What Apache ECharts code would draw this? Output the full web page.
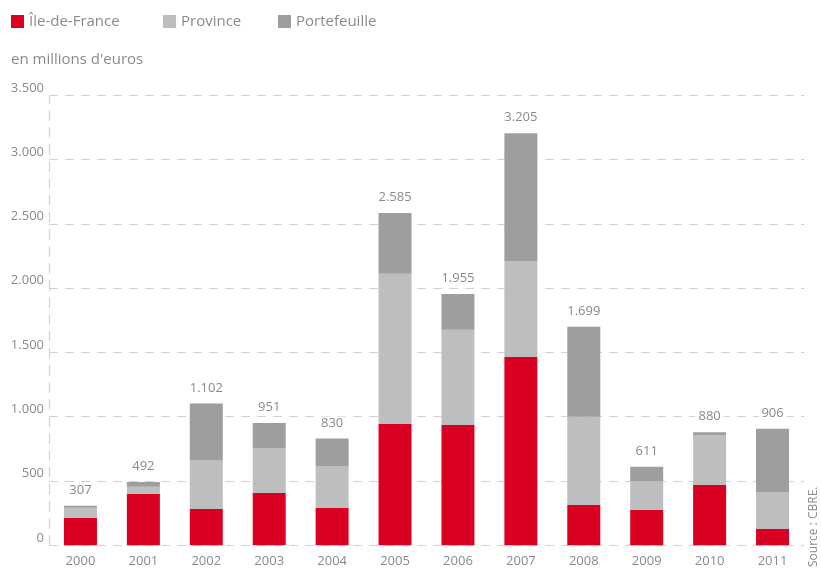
<!DOCTYPE html>
<html>
<head>
<meta charset="utf-8">
<script src="https://cdn.jsdelivr.net/npm/echarts@6/dist/echarts.min.js"></script>
<style>
  html, body { margin: 0; padding: 0; background: #fff; }
  #chart { width: 821px; height: 569px; }
</style>
</head>
<body>
<div id="chart"></div>
<script>
// Investissements en immobilier, en millions d'euros
const years = ['2000','2001','2002','2003','2004','2005','2006','2007','2008','2009','2010','2011'];
const ileDeFrance = [215, 401, 282, 407, 290, 943, 936, 1464, 313, 275, 469, 127];
const province    = [77,  55,  381, 350, 327, 1169, 741, 747, 687, 225, 389, 287];
const portefeuille = [15, 36,  439, 194, 213, 473, 278, 994, 699, 111, 22,  492];
const totals      = [307, 492, 1102, 951, 830, 2585, 1955, 3205, 1699, 611, 880, 906];
const yTicks = [0, 500, 1000, 1500, 2000, 2500, 3000, 3500];

const FONT = 'Open Sans';
const TEXT = '#8a8a8a';
const RED = '#da0021';
const LIGHT = '#bdbec0';
const DARK = '#9d9ea0';

function fmt(v) {
  return String(v).replace(/\B(?=(\d{3})+(?!\d))/g, '.');
}

const chart = echarts.init(document.getElementById('chart'), null, { renderer: 'canvas' });

const legendBase = {
  top: 9,
  icon: 'rect',
  itemWidth: 13,
  itemHeight: 13,
  itemGap: 6,
  selectedMode: false,
  textStyle: { color: TEXT, fontFamily: FONT, fontSize: 15, padding: [0, 0, 0, 0] }
};

chart.setOption({
  animation: false,
  textStyle: { fontFamily: FONT },
  legend: [
    Object.assign({}, legendBase, { left: 6, data: ['Île-de-France'] }),
    Object.assign({}, legendBase, { left: 158, data: ['Province'] }),
    Object.assign({}, legendBase, { left: 273, data: ['Portefeuille'] })
  ],
  title: {
    text: "en millions d'euros",
    left: 6,
    top: 47,
    textStyle: { color: TEXT, fontFamily: FONT, fontSize: 15, fontWeight: 'normal' }
  },
  grid: { left: 49, right: 17, top: 95.3, bottom: 23.7, containLabel: false },
  xAxis: {
    type: 'category',
    data: years,
    axisLine: { show: false },
    axisTick: { show: false },
    axisLabel: { color: TEXT, fontFamily: FONT, fontSize: 13, margin: 9 }
  },
  yAxis: {
    type: 'value',
    min: 0,
    max: 3500,
    interval: 500,
    axisLine: { show: true, lineStyle: { color: '#d2d2d2', width: 1.2, type: [10, 7] } },
    axisTick: { show: false },
    axisLabel: {
      color: TEXT, fontFamily: FONT, fontSize: 13, margin: 5,
      verticalAlign: 'bottom', padding: [0, 0, 1, 0],
      formatter: v => yTicks.includes(v) ? fmt(v) : ''
    },
    splitLine: { show: true, lineStyle: { color: '#d2d2d2', width: 1.2, type: [9, 7] } }
  },
  series: [
    {
      name: 'Île-de-France', type: 'bar', stack: 'total', barWidth: 33,
      itemStyle: { color: RED }, data: ileDeFrance
    },
    {
      name: 'Province', type: 'bar', stack: 'total', barWidth: 33,
      itemStyle: { color: LIGHT }, data: province
    },
    {
      name: 'Portefeuille', type: 'bar', stack: 'total', barWidth: 33,
      itemStyle: { color: DARK }, data: portefeuille,
      label: {
        show: true, position: 'top', distance: 9,
        color: TEXT, fontFamily: FONT, fontSize: 13,
        backgroundColor: '#fff', padding: [0, 3],
        formatter: p => fmt(totals[p.dataIndex])
      }
    }
  ],
  graphic: [
    {
      type: 'text',
      x: 814, y: 567,
      rotation: Math.PI / 2,
      style: {
        text: 'Source : CBRE.',
        fill: TEXT,
        font: '12px "' + FONT + '"',
        textAlign: 'left',
        textVerticalAlign: 'middle'
      }
    }
  ]
});
</script>
</body>
</html>
